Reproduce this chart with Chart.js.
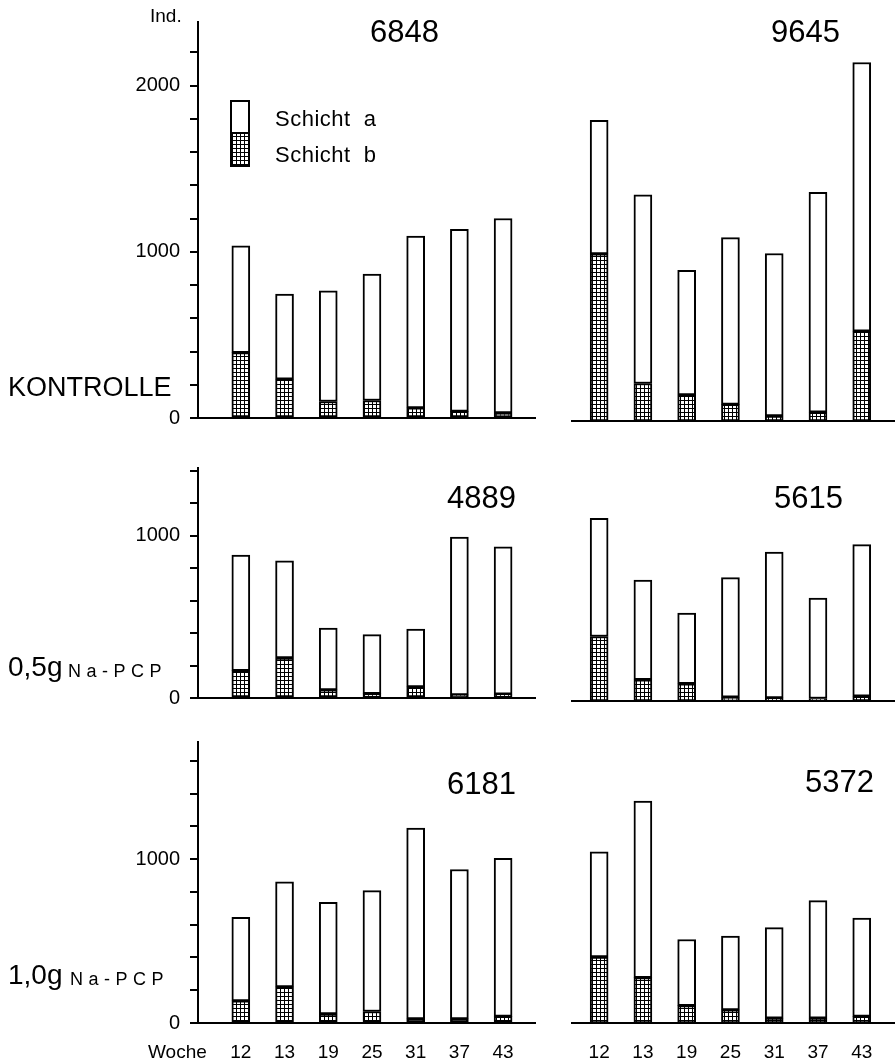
<!DOCTYPE html>
<html><head><meta charset="utf-8">
<script src="https://cdn.jsdelivr.net/npm/chart.js@4.4.1/dist/chart.umd.min.js"></script>
<style>
html,body{margin:0;padding:0;background:#fff;}
#wrap{position:relative;width:895px;height:1064px;overflow:hidden;font-family:'Liberation Sans',Arial,sans-serif;color:#000;}
canvas{position:absolute;}
.t{position:absolute;white-space:pre;line-height:1;}
</style></head><body>
<div id="wrap">
  <canvas id="tl" width="540" height="440" style="left:0;top:0"></canvas>
  <canvas id="tr" width="335" height="440" style="left:560px;top:0"></canvas>
  <canvas id="ml" width="540" height="280" style="left:0;top:440px"></canvas>
  <canvas id="mr" width="335" height="280" style="left:560px;top:440px"></canvas>
  <canvas id="bl" width="540" height="344" style="left:0;top:720px"></canvas>
  <canvas id="br" width="335" height="344" style="left:560px;top:720px"></canvas>

  <div class="t" style="left:150px;top:6px;font-size:19px">Ind.</div>
  <div class="t" style="left:370px;top:16px;font-size:31px">6848</div>
  <div class="t" style="left:771px;top:16px;font-size:31px">9645</div>
  <div class="t" style="left:447px;top:482px;font-size:31px">4889</div>
  <div class="t" style="left:774px;top:482px;font-size:31px">5615</div>
  <div class="t" style="left:447px;top:768px;font-size:31px">6181</div>
  <div class="t" style="left:805px;top:766px;font-size:31px">5372</div>
  <div class="t" style="left:275px;top:108px;font-size:22px;letter-spacing:0.5px">Schicht  a</div>
  <div class="t" style="left:275px;top:144px;font-size:22px;letter-spacing:0.5px">Schicht  b</div>
  <div class="t" style="left:8px;top:374px;font-size:27px">KONTROLLE</div>
  <div class="t" style="left:8px;top:653px;font-size:28px">0,5g</div>
  <div class="t" style="left:68px;top:662px;font-size:18px;letter-spacing:5.5px">Na-PCP</div>
  <div class="t" style="left:8px;top:961px;font-size:28px">1,0g</div>
  <div class="t" style="left:70px;top:970px;font-size:18px;letter-spacing:5.5px">Na-PCP</div>
  <div class="t" style="left:148px;top:1042px;font-size:19px">Woche</div>
</div>
<script>
// ---- data (Individuen je Probe, Schicht a oben / Schicht b unten) ----
const weeks = ['12', '13', '19', '25', '31', '37', '43'];
const yTickLabels = [0, 1000, 2000];
const yTickStep = 200;

// KONTROLLE, Fläche 6848
const kontrolleA_a = [642, 511, 666, 760, 1034, 1095, 1170];
const kontrolleA_b = [393, 234, 99, 105, 61, 40, 30];
// KONTROLLE, Fläche 9645
const kontrolleB_a = [797, 1126, 745, 996, 970, 1313, 1604];
const kontrolleB_b = [998, 224, 155, 99, 30, 52, 536];
// 0,5g Na-PCP, Fläche 4889
const pcp05A_a = [711, 599, 380, 363, 357, 971, 907];
const pcp05A_b = [169, 246, 50, 27, 68, 19, 23];
// 0,5g Na-PCP, Fläche 5615
const pcp05B_a = [718, 606, 430, 727, 886, 610, 921];
const pcp05B_b = [392, 129, 105, 23, 19, 15, 29];
// 1,0g Na-PCP, Fläche 6181
const pcp10A_a = [510, 642, 682, 738, 1165, 912, 965];
const pcp10A_b = [135, 220, 55, 70, 25, 25, 40];
// 1,0g Na-PCP, Fläche 5372
const pcp10B_a = [638, 1070, 401, 447, 548, 712, 596];
const pcp10B_b = [400, 275, 105, 80, 30, 30, 40];

// ---- stipple pattern for Schicht b ----
function makePattern() {
  const c = document.createElement('canvas');
  c.width = 4; c.height = 4;
  const g = c.getContext('2d');
  g.fillStyle = '#fff'; g.fillRect(0, 0, 4, 4);
  g.fillStyle = '#000';
  g.fillRect(0, 0, 4, 1);
  g.fillRect(0, 0, 1, 4);
  return g.createPattern(c, 'repeat');
}

Chart.defaults.font.family = "'Liberation Sans', Arial, sans-serif";
Chart.defaults.font.size = 19;
Chart.defaults.color = '#000';

function toXY(vals) { return vals.map((v, i) => ({ x: i, y: v })); }

const legendSwatch = {
  id: 'legendSwatch',
  afterDraw(chart, args, opts) {
    if (!opts || !opts.show) return;
    const ctx = chart.ctx, ca = chart.chartArea;
    const x = ca.left + 32, y = ca.top + 78, w = 20, h1 = 33, h2 = 34;
    ctx.save();
    ctx.fillStyle = '#000';
    ctx.fillRect(x, y, w, h1 + h2);
    ctx.fillStyle = '#fff';
    ctx.fillRect(x + 2, y + 2, w - 4, h1 - 3);
    ctx.fillStyle = chart.data.datasets[0].backgroundColor;
    ctx.fillRect(x + 2, y + h1 + 1, w - 4, h2 - 3);
    ctx.restore();
  }
};

function makePanel(id, aVals, bVals, o) {
  const pat = makePattern();
  return new Chart(document.getElementById(id), {
    type: 'bar',
    data: {
      datasets: [
        { label: 'Schicht b', data: toXY(bVals), backgroundColor: pat, borderColor: '#000', borderWidth: 2, borderSkipped: false, barThickness: 18 },
        { label: 'Schicht a', data: toXY(aVals), backgroundColor: '#fff', borderColor: '#000', borderWidth: 2, borderSkipped: false, barThickness: 18 }
      ]
    },
    options: {
      responsive: false,
      animation: false,
      layout: { padding: { top: o.padTop, left: o.left ? 0 : 12, right: o.left ? 5 : 0, bottom: 0 } },
      plugins: { legend: { display: false }, tooltip: { enabled: false }, legendSwatch: { show: !!o.legend } },
      scales: {
        x: {
          type: 'linear',
          stacked: true,
          offset: false,
          min: o.left ? -0.98 : -0.62,
          max: o.left ? 6.73 : 6.76,
          afterBuildTicks: s => { s.ticks = weeks.map((w, i) => ({ value: i })); },
          afterFit: s => { s.height = o.xH; },
          grid: { display: false, drawTicks: false, offset: false },
          border: { display: true, color: '#000', width: 2 },
          ticks: { display: !!o.xLabels, autoSkip: false, maxRotation: 0, padding: 18, callback: v => weeks[v], font: { size: 19 } }
        },
        y: {
          stacked: true,
          display: !!o.left,
          min: 0,
          max: o.max,
          afterBuildTicks: s => {
            const t = [];
            for (let v = 0; v <= o.max; v += yTickStep) t.push({ value: v });
            s.ticks = t;
          },
          afterFit: s => { if (o.left) s.width = 198; },
          grid: { display: true, drawOnChartArea: false, drawTicks: true, tickLength: 8, color: '#000', lineWidth: 2 },
          border: { display: true, color: '#000', width: 2 },
          ticks: {
            autoSkip: false,
            padding: 10,
            font: { size: 20 },
            callback: v => (yTickLabels.includes(v) ? String(v) : '')
          }
        }
      }
    },
    plugins: [legendSwatch]
  });
}

makePanel('tl', kontrolleA_a, kontrolleA_b, { left: true, padTop: 22, xH: 19, max: 2382, legend: true });
makePanel('tr', kontrolleB_a, kontrolleB_b, { left: false, padTop: 22, xH: 19, max: 2382 });
makePanel('ml', pcp05A_a, pcp05A_b, { left: true, padTop: 28, xH: 19, max: 1416 });
makePanel('mr', pcp05B_a, pcp05B_b, { left: false, padTop: 28, xH: 19, max: 1416 });
makePanel('bl', pcp10A_a, pcp10A_b, { left: true, padTop: 20, xH: 41, max: 1715, xLabels: true });
makePanel('br', pcp10B_a, pcp10B_b, { left: false, padTop: 20, xH: 41, max: 1715, xLabels: true });
</script>
</body></html>
